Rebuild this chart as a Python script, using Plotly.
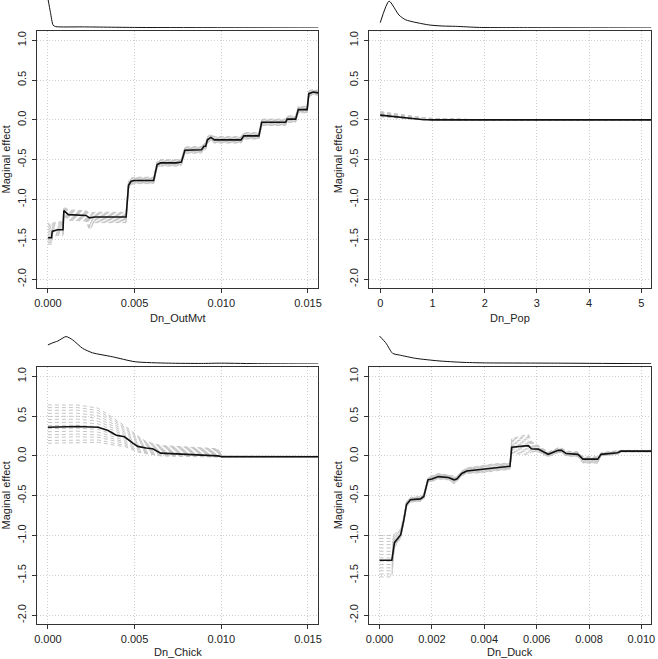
import plotly.graph_objects as go

# ---------------- data ----------------
# Panel 1: Dn_OutMvt
x_outmvt = [0.0, 0.00021, 0.00025, 0.00055, 0.00087, 0.00092, 0.00118, 0.0022, 0.0024, 0.0027,
            0.00451, 0.00465, 0.0048, 0.0050, 0.0061, 0.0063, 0.0065, 0.0074, 0.0077, 0.0079,
            0.00886, 0.0090, 0.0091, 0.0092, 0.0094, 0.0096, 0.01114, 0.0113, 0.01217, 0.01233,
            0.01371, 0.0138, 0.01429, 0.01444, 0.01495, 0.01505, 0.0153, 0.0156]
y_outmvt = [-1.48, -1.48, -1.40, -1.38, -1.38, -1.14, -1.19, -1.20, -1.23, -1.22,
            -1.22, -0.82, -0.77, -0.76, -0.76, -0.56, -0.54, -0.54, -0.53, -0.38,
            -0.375, -0.33, -0.33, -0.25, -0.22, -0.25, -0.25, -0.20, -0.20, -0.03,
            -0.03, 0.01, 0.01, 0.13, 0.13, 0.33, 0.35, 0.34]
dn_outmvt = [0.08, 0.08, 0.07, 0.07, 0.07, 0.06, 0.07, 0.07, 0.15, 0.07,
             0.07, 0.05, 0.04, 0.04, 0.04, 0.04, 0.04, 0.04, 0.04, 0.04,
             0.04, 0.04, 0.04, 0.04, 0.04, 0.04, 0.04, 0.04, 0.04, 0.04,
             0.04, 0.04, 0.04, 0.04, 0.04, 0.04, 0.03, 0.03]
up_outmvt = [0.19, 0.15, 0.10, 0.10, 0.10, 0.05, 0.06, 0.06, 0.06, 0.06,
             0.06, 0.05, 0.04, 0.04, 0.04, 0.04, 0.04, 0.04, 0.04, 0.04,
             0.04, 0.04, 0.04, 0.04, 0.04, 0.04, 0.04, 0.04, 0.04, 0.04,
             0.04, 0.04, 0.04, 0.04, 0.04, 0.04, 0.03, 0.03]
dens_x_outmvt = [0.0, 0.00015, 0.0003, 0.00045, 0.002, 0.005, 0.01, 0.0156]
dens_h_outmvt = [1.05, 0.55, 0.10, 0.05, 0.04, 0.02, 0.01, 0.0]

# Panel 2: Dn_Pop
x_pop = [0.0, 0.2, 0.4, 0.6, 0.8, 1.0, 1.5, 2.0, 5.19]
y_pop = [0.06, 0.045, 0.03, 0.015, 0.005, 0.0, 0.0, 0.0, 0.0]
dn_pop = [0.02, 0.015, 0.01, 0.01, 0.005, 0.0, 0.0, 0.0, 0.0]
up_pop = [0.045, 0.04, 0.035, 0.03, 0.025, 0.02, 0.008, 0.0, 0.0]
dens_x_pop = [0.0, 0.17, 0.36, 0.49, 0.93, 1.2, 1.44, 1.9, 3.0, 5.19]
dens_h_pop = [0.19, 0.96, 0.46, 0.29, 0.11, 0.07, 0.06, 0.02, 0.01, 0.0]

# Panel 3: Dn_Chick
x_chick = [0.0, 0.0017, 0.0029, 0.00347, 0.00394, 0.00442, 0.0049, 0.00518, 0.00566, 0.00604,
           0.00651, 0.00737, 0.0087, 0.0098, 0.01004, 0.0156]
y_chick = [0.36, 0.37, 0.36, 0.32, 0.26, 0.24, 0.16, 0.12, 0.10, 0.09,
           0.035, 0.025, 0.015, 0.0, -0.01, -0.01]
dn_chick = [0.20, 0.20, 0.19, 0.17, 0.13, 0.12, 0.09, 0.07, 0.07, 0.07,
            0.035, 0.03, 0.025, 0.01, 0.005, 0.005]
up_chick = [0.28, 0.27, 0.24, 0.20, 0.19, 0.14, 0.14, 0.13, 0.08, 0.07,
            0.095, 0.095, 0.085, 0.09, 0.01, 0.005]
dens_x_chick = [0.0, 0.00029, 0.00057, 0.00105, 0.00143, 0.002, 0.00257, 0.00371, 0.00503,
                0.00695, 0.00886, 0.01, 0.0123, 0.0156]
dens_h_chick = [0.68, 0.76, 0.82, 0.98, 0.86, 0.56, 0.40, 0.26, 0.08, 0.03, 0.02, 0.03, 0.01, 0.0]

# Panel 4: Dn_Duck
x_duck = [0.0, 0.00047, 0.00057, 0.0007, 0.00081, 0.00093, 0.00103, 0.00118, 0.00156, 0.00169,
          0.00185, 0.002, 0.00225, 0.00263, 0.00285, 0.00295, 0.00314, 0.00333, 0.00397, 0.00435,
          0.00498, 0.00505, 0.00568, 0.0058, 0.00606, 0.00644, 0.00682, 0.00695, 0.00713, 0.00758,
          0.00777, 0.00833, 0.00846, 0.00909, 0.00922, 0.01038]
y_duck = [-1.31, -1.31, -1.09, -1.03, -0.99, -0.80, -0.61, -0.55, -0.54, -0.51,
          -0.30, -0.29, -0.26, -0.27, -0.30, -0.29, -0.22, -0.19, -0.17, -0.15,
          -0.13, 0.11, 0.13, 0.09, 0.085, 0.02, 0.07, 0.07, 0.03, 0.02,
          -0.04, -0.04, 0.02, 0.04, 0.06, 0.06]
dn_duck = [0.21, 0.21, 0.06, 0.05, 0.04, 0.04, 0.03, 0.03, 0.03, 0.03,
           0.03, 0.03, 0.03, 0.03, 0.05, 0.03, 0.03, 0.03, 0.04, 0.04,
           0.04, 0.08, 0.11, 0.04, 0.035, 0.03, 0.03, 0.03, 0.03, 0.03,
           0.05, 0.05, 0.02, 0.02, 0.01, 0.01]
up_duck = [0.31, 0.31, 0.11, 0.08, 0.07, 0.04, 0.04, 0.03, 0.03, 0.03,
           0.03, 0.04, 0.04, 0.03, 0.04, 0.03, 0.03, 0.04, 0.05, 0.05,
           0.04, 0.11, 0.14, 0.09, 0.045, 0.03, 0.03, 0.03, 0.03, 0.03,
           0.03, 0.03, 0.02, 0.02, 0.01, 0.01]
dens_x_duck = [0.0, 0.00025, 0.0005, 0.00076, 0.00139, 0.00227, 0.00315, 0.004, 0.0068, 0.01038]
dens_h_duck = [1.0, 0.74, 0.38, 0.32, 0.20, 0.11, 0.06, 0.04, 0.03, 0.01]

# bootstrap replicate positions within the band (0 = lower edge, 1 = upper edge)
replicate_pos = [0.0, 0.07, 0.15, 0.22, 0.3, 0.38, 0.46, 0.54, 0.62,
                 0.7, 0.78, 0.86, 0.93, 1.0]

x_titles = ["Dn_OutMvt", "Dn_Pop", "Dn_Chick", "Dn_Duck"]
y_title = "Maginal effect"
y_tickvals = [-2.0, -1.5, -1.0, -0.5, 0.0, 0.5, 1.0]
y_ticktext = ["-2.0", "-1.5", "-1.0", "-0.5", "0.0", "0.5", "1.0"]
x_tickvals = [[0.0, 0.005, 0.010, 0.015], [0, 1, 2, 3, 4, 5],
              [0.0, 0.005, 0.010, 0.015], [0.0, 0.002, 0.004, 0.006, 0.008, 0.010]]
x_ticktext = [["0.000", "0.005", "0.010", "0.015"], ["0", "1", "2", "3", "4", "5"],
              ["0.000", "0.005", "0.010", "0.015"],
              ["0.000", "0.002", "0.004", "0.006", "0.008", "0.010"]]

# ---------------- layout geometry ----------------
W, H = 658, 659
def px_x(a, b):
    return [a / W, b / W]
def px_y(top, bottom):
    return [1 - bottom / H, 1 - top / H]

x_dom = [px_x(34.3, 318.3), px_x(369.3, 654.3), px_x(34.3, 318.3), px_x(369.3, 654.3)]
y_dom = [px_y(31, 288.3), px_y(31, 288.3), px_y(367, 624.3), px_y(367, 624.3)]
d_dom = [px_y(0, 28), px_y(0, 28), px_y(336, 364), px_y(336, 364)]
x_rng = [[-0.000629, 0.0156], [-0.216, 5.19], [-0.000629, 0.0156], [-0.000405, 0.01038]]
y_rng = [-2.115, 1.117]

panels = [
    (x_outmvt, y_outmvt, dn_outmvt, up_outmvt, dens_x_outmvt, dens_h_outmvt),
    (x_pop, y_pop, dn_pop, up_pop, dens_x_pop, dens_h_pop),
    (x_chick, y_chick, dn_chick, up_chick, dens_x_chick, dens_h_chick),
    (x_duck, y_duck, dn_duck, up_duck, dens_x_duck, dens_h_duck),
]

FONT = "Liberation Sans, Arial, sans-serif"
fig = go.Figure()
layout = dict(width=W, height=H, margin=dict(l=0, r=0, t=0, b=0),
              paper_bgcolor="white", plot_bgcolor="white", showlegend=False,
              font=dict(family=FONT, size=11, color="#222"))
annotations = []

for i, (xs, ys, dn, up, dx, dh) in enumerate(panels):
    n = i + 1
    xa = "x" if n == 1 else f"x{n}"
    ya = "y" if n == 1 else f"y{n}"
    # bootstrap replicates
    for f in replicate_pos:
        yy = [y - d + f * (d + u) for y, d, u in zip(ys, dn, up)]
        fig.add_trace(go.Scatter(x=xs, y=yy, mode="lines", xaxis=xa, yaxis=ya,
                                 line=dict(color="#c4c4c4", width=1, dash="4px,3px"),
                                 hoverinfo="skip"))
    # main effect
    fig.add_trace(go.Scatter(x=xs, y=ys, mode="lines", xaxis=xa, yaxis=ya,
                             line=dict(color="#111111", width=1.6)))
    # density strip
    dxa, dya = f"x{n + 4}", f"y{n + 4}"
    fig.add_trace(go.Scatter(x=dx, y=dh, mode="lines", xaxis=dxa, yaxis=dya,
                             line=dict(color="#111111", width=1, shape="spline", smoothing=0.6)))

    common = dict(showline=True, mirror=True, linecolor="#333333", linewidth=1,
                  ticks="outside", ticklen=4, tickcolor="#333333", tickwidth=1,
                  showgrid=True, gridcolor="#cfcfcf", gridwidth=1, griddash="1px,2px",
                  zeroline=False, tickfont=dict(family=FONT, size=11, color="#222"))
    layout[f"xaxis{'' if n == 1 else n}"] = dict(
        common, domain=x_dom[i], range=x_rng[i], anchor=ya,
        tickmode="array", tickvals=x_tickvals[i], ticktext=x_ticktext[i])
    layout[f"yaxis{'' if n == 1 else n}"] = dict(
        common, domain=y_dom[i], range=y_rng, anchor=xa, tickangle=-90,
        tickmode="array", tickvals=y_tickvals, ticktext=y_ticktext, ticklabelstandoff=2)
    layout[f"xaxis{n + 4}"] = dict(domain=x_dom[i], range=x_rng[i], anchor=dya, visible=False)
    layout[f"yaxis{n + 4}"] = dict(domain=d_dom[i], range=[0, 1], anchor=dxa, visible=False)

    # axis titles
    xc = (x_dom[i][0] + x_dom[i][1]) / 2
    ty = 318 if i < 2 else 652
    annotations.append(dict(text=x_titles[i], x=xc, y=1 - ty / H, xref="paper", yref="paper",
                            showarrow=False, xanchor="center", yanchor="middle",
                            font=dict(family=FONT, size=11, color="#222")))
    yc = (y_dom[i][0] + y_dom[i][1]) / 2
    tx = x_dom[i][0] * W - 31.5
    annotations.append(dict(text=y_title, x=tx / W, y=yc, xref="paper", yref="paper",
                            showarrow=False, textangle=-90, xanchor="center", yanchor="middle",
                            font=dict(family=FONT, size=11, color="#222")))

layout["annotations"] = annotations
fig.update_layout(**layout)
fig.write_html("out.html", config={"displayModeBar": False},
               post_script="document.body.style.margin='0';document.body.style.padding='0';")
